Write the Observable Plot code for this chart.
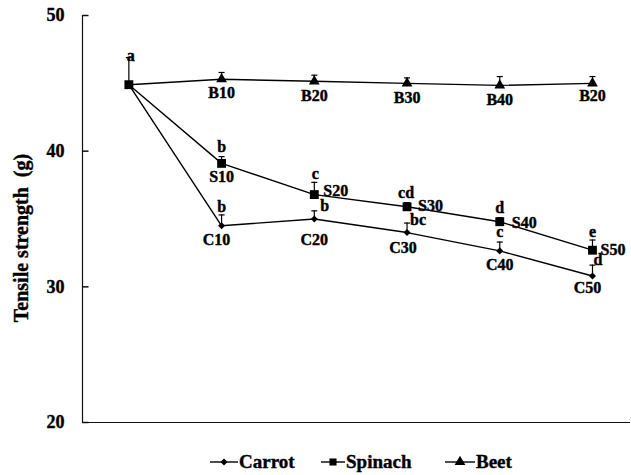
<!DOCTYPE html>
<html><head><meta charset="utf-8">
<script src="https://cdn.jsdelivr.net/npm/d3@7"></script>
<script src="https://cdn.jsdelivr.net/npm/@observablehq/plot@0.6"></script>
<style>
body{margin:0;background:#fff;font-family:"Liberation Serif",serif;}
#chart svg{display:block;}
#legend{position:relative;height:35px;font-weight:bold;font-size:19px;font-family:"Liberation Serif",serif;-webkit-text-stroke:0.4px #000;}
.item{position:absolute;top:11px;display:flex;align-items:center;height:22px;}
.item svg{display:block;margin-right:1px;}
</style></head><body>
<div id="chart"></div>
<div id="legend"></div>
<script>
// ---- data ----
const levels = [0, 10, 20, 30, 40, 50];
const carrot = [44.9, 34.5, 35.0, 34.0, 32.65, 30.8];
const carrotErr = [2.0, 0.8, 0.6, 0.7, 0.65, 0.8];
const spinach = [44.9, 39.1, 36.8, 35.9, 34.8, 32.7];
const spinachErr = [2.0, 0.5, 0.9, 0.3, 0.3, 0.75];
const beet = [44.9, 45.3, 45.15, 45.0, 44.85, 45.0];
const beetErr = [2.0, 0.5, 0.45, 0.4, 0.65, 0.5];
const carrotLabels = ["", "C10", "C20", "C30", "C40", "C50"];
const spinachLabels = ["", "S10", "S20", "S30", "S40", "S50"];
const beetLabels = ["", "B10", "B20", "B30", "B40", "B20"];
const carrotLetters = ["", "b", "b", "bc", "c", "d"];
const spinachLetters = ["a", "b", "c", "cd", "d", "e"];
const seriesNames = ["Carrot", "Spinach", "Beet"];
const yTicks = [20, 30, 40, 50];
const yTitle = "Tensile strength  (g)";

// ---- table ----
function build(name, vals, errs, labels, letters) {
  return vals.map((v, i) => ({series: name, i, level: levels[i], value: v, err: errs[i],
    top: v + errs[i], label: labels[i], letter: letters ? letters[i] : ""}));
}
const carrotData = build("Carrot", carrot, carrotErr, carrotLabels, carrotLetters);
const spinachData = build("Spinach", spinach, spinachErr, spinachLabels, spinachLetters);
const beetData = build("Beet", beet, beetErr, beetLabels, null);
const all = [...carrotData, ...beetData, ...spinachData];
const errData = all.filter(d => d.i > 0 || d.series === "Spinach");

// ---- label placement (style) ----
const letterPlace = {
  Carrot: [null, [0,-14,"middle"], [6,-8,"start"], [3,-8,"start"], [0,-14,"middle"], [1,-11,"start"]],
  Spinach: [[2,-24,"middle"], [0,-11,"middle"], [1,-16,"middle"], [-1,-9,"middle"], [0,-9,"middle"], [0,-13,"middle"]]
};
const labelPlace = {
  Carrot: [null, [-5,19,"middle"], [0,26,"middle"], [-4,20,"middle"], [0,19,"middle"], [-5,17,"middle"]],
  Spinach: [null, [0,19,"middle"], [9,1,"start"], [11,4,"start"], [12,6,"start"], [8,5,"start"]],
  Beet: [null, [0,19,"middle"], [0,20,"middle"], [0,20,"middle"], [0,20,"middle"], [0,18,"middle"]]
};

const font = {fontFamily: "Liberation Serif", fontWeight: "bold", stroke: "#000", strokeWidth: 0.4, fill: "#000"};
const capSym = {draw(ctx) { ctx.moveTo(-3, 0); ctx.lineTo(3, 0); }};
const tickSym = {draw(ctx) { ctx.moveTo(0, 0); ctx.lineTo(6, 0); }};
const xDomain = [-0.5, 5.41];

const textMarks = [];
for (const d of all) {
  const lp = labelPlace[d.series] && labelPlace[d.series][d.i];
  if (lp && d.label) textMarks.push(Plot.text([d], {x: "i", y: "value", text: "label", dx: lp[0], dy: lp[1], textAnchor: lp[2], lineAnchor: "bottom", fontSize: 16, ...font}));
  const tp = letterPlace[d.series] && letterPlace[d.series][d.i];
  if (tp && d.letter) textMarks.push(Plot.text([d], {x: "i", y: "value", text: "letter", dx: tp[0], dy: tp[1], textAnchor: tp[2], lineAnchor: "bottom", fontSize: 16, ...font}));
}

const chart = Plot.plot({
  width: 631, height: 440,
  marginLeft: 82, marginRight: 1, marginTop: 15, marginBottom: 18,
  style: {fontFamily: "Liberation Serif, serif", fontWeight: "bold", fontSize: "16px", background: "#fff", color: "#000"},
  x: {type: "linear", domain: xDomain, axis: null},
  y: {domain: [20, 50], axis: null},
  marks: [
    Plot.ruleX([xDomain[0]], {stroke: "#111", strokeWidth: 1.2}),
    Plot.ruleY([yTicks[0]], {stroke: "#111", strokeWidth: 1.2}),
    Plot.dot(yTicks, {x: () => xDomain[0], y: d => d, symbol: tickSym, stroke: "#111", r: 3}),
    Plot.text(yTicks, {x: () => xDomain[0], y: d => d, text: d => String(d), dx: -18, textAnchor: "end", fontSize: 18, ...font}),
    Plot.text([yTitle], {frameAnchor: "left", dx: -61, dy: 19, rotate: -90, textAnchor: "middle", lineAnchor: "middle", fontSize: 20, letterSpacing: 1.2, ...font}),
    Plot.ruleX(errData, {x: "i", y1: "value", y2: "top", stroke: "#000", strokeWidth: 1.2}),
    Plot.dot(errData, {x: "i", y: "top", symbol: capSym, stroke: "#000", strokeWidth: 1.2, r: 3}),
    Plot.line(carrotData, {x: "i", y: "value", stroke: "#000", strokeWidth: 1.4}),
    Plot.line(beetData, {x: "i", y: "value", stroke: "#000", strokeWidth: 1.4}),
    Plot.line(spinachData, {x: "i", y: "value", stroke: "#000", strokeWidth: 1.4}),
    Plot.dot(carrotData.filter(d => d.i > 0), {x: "i", y: "value", symbol: "diamond2", r: 3.2, fill: "#000"}),
    Plot.dot(beetData.filter(d => d.i > 0), {x: "i", y: "value", symbol: "triangle", r: 4, fill: "#000"}),
    Plot.dot(spinachData, {x: "i", y: "value", symbol: "square", r: 5, fill: "#000"}),
    ...textMarks
  ]
});
document.getElementById("chart").appendChild(chart);

// ---- legend ----
const symbolTypes = {Carrot: d3.symbolDiamond2, Spinach: d3.symbolSquare, Beet: d3.symbolTriangle};
const legendR = {Carrot: 3.2, Spinach: 4, Beet: 4};
const legendLeft = {Carrot: 210, Spinach: 321, Beet: 445};
const legendLine = {Carrot: 28, Spinach: 24, Beet: 30};
const legend = document.getElementById("legend");
for (const name of seriesNames) {
  const item = document.createElement("div");
  item.className = "item";
  item.style.left = legendLeft[name] + "px";
  const w = legendLine[name];
  const sym = d3.symbol(symbolTypes[name], Math.PI * legendR[name] ** 2)();
  item.innerHTML = `<svg width="${w}" height="14"><line x1="0" x2="${w}" y1="7" y2="7" stroke="#000" stroke-width="1.4"/><path transform="translate(${w/2},7)" d="${sym}" fill="#000"/></svg><span>${name}</span>`;
  legend.appendChild(item);
}
</script>
</body></html>
